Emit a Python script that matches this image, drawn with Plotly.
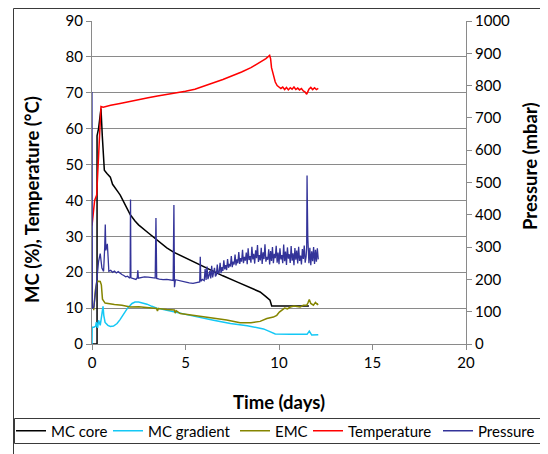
import plotly.graph_objects as go

# ---------------- data ----------------
mc_core_t = [0.0, 0.27, 0.27, 0.35, 0.42, 0.48, 0.55, 0.62, 0.66, 0.8, 0.98, 1.1, 1.24, 1.4, 1.51,
             1.8, 2.05, 2.3, 2.49, 3.0, 3.47, 4.0, 4.36, 5.0, 5.25, 6.0, 6.5, 7.0, 7.75, 8.46,
             8.99, 9.3, 9.52, 9.61, 10.0, 11.0, 11.6]
mc_core_v = [0.0, 0.0, 58.0, 60.0, 63.0, 65.6, 58.0, 50.0, 48.4, 47.5, 46.5, 44.5, 43.3, 42.3, 41.5,
             38.5, 36.0, 34.3, 33.2, 31.0, 28.9, 26.8, 25.6, 24.0, 23.3, 21.3, 20.1, 19.0, 17.3, 15.7,
             14.5, 13.2, 12.2, 10.6, 10.6, 10.6, 10.6]

mc_grad_t = [0.0, 0.01, 0.1, 0.2, 0.23, 0.3, 0.35, 0.44, 0.52, 0.59, 0.63, 0.7, 0.85, 0.98, 1.15,
             1.34, 1.5, 1.69, 1.9, 2.14, 2.3, 2.49, 2.7, 2.94, 3.2, 3.47, 4.0, 4.72, 5.5, 6.5,
             7.4, 8.3, 8.8, 9.17, 9.45, 9.6, 9.8, 10.6, 11.5, 11.62, 11.75, 12.1]
mc_grad_v = [0.0, 4.7, 4.7, 5.0, 6.1, 4.5, 6.6, 5.2, 8.0, 10.5, 8.0, 6.0, 5.2, 4.9, 5.0,
             5.7, 6.8, 8.5, 10.0, 11.3, 11.7, 11.7, 11.4, 11.1, 10.5, 10.0, 9.4, 8.5, 7.7, 6.6,
             5.7, 5.1, 4.6, 4.2, 3.6, 3.3, 2.8, 2.7, 2.7, 3.6, 2.5, 2.6]

emc_t = [0.09, 0.18, 0.27, 0.44, 0.5, 0.56, 0.7, 0.8, 1.2, 1.6, 2.05, 2.5, 3.0, 3.45, 3.5, 3.55,
         4.0, 4.4, 4.45, 4.5, 4.72, 5.5, 6.5, 7.2, 7.92, 8.5, 8.99, 9.35, 9.7, 9.88, 10.02, 10.15,
         10.3, 10.45, 10.6, 10.8, 11.0, 11.13, 11.3, 11.48, 11.55, 11.62, 11.7, 11.84, 11.95,
         12.05, 12.1]
emc_v = [9.4, 15.0, 17.5, 17.4, 16.5, 12.5, 11.4, 11.3, 11.0, 10.8, 10.3, 10.4, 10.2, 9.9, 9.2, 9.9,
         9.6, 9.5, 8.6, 9.3, 8.5, 7.9, 7.3, 6.7, 5.9, 5.9, 6.3, 7.1, 7.5, 8.0, 8.9, 9.4,
         10.0, 9.8, 10.3, 10.6, 10.4, 10.3, 10.8, 10.8, 11.5, 12.4, 11.3, 10.8, 11.6,
         11.0, 11.2]

temp_t = [0.0, 0.05, 0.14, 0.25, 0.3, 0.35, 0.42, 0.48, 0.6, 0.8, 1.0, 1.5, 2.0, 2.5, 3.0, 3.5,
          4.0, 4.5, 5.0, 5.5, 6.0, 6.5, 7.0, 7.5, 8.0, 8.5, 9.0, 9.3, 9.5, 9.55, 9.6, 9.7, 9.8,
          9.9, 10.0, 10.1, 10.2, 10.3, 10.4, 10.5, 10.6, 10.7, 10.8, 10.9, 11.0, 11.1, 11.2,
          11.3, 11.4, 11.48, 11.55, 11.6, 11.7, 11.8, 11.9, 12.0, 12.1]
temp_v = [33.0, 36.0, 40.0, 41.5, 47.0, 54.0, 61.0, 66.2, 66.0, 66.3, 66.5, 67.0, 67.6, 68.1, 68.6,
          69.1, 69.5, 69.9, 70.4, 71.0, 71.8, 72.8, 73.7, 74.7, 75.8, 77.0, 78.5, 79.5, 80.4, 79.5,
          77.0, 74.5, 73.0, 72.0, 71.5, 71.2, 71.6, 70.9, 71.5, 70.8, 71.4, 71.0, 71.6, 70.9, 71.3,
          70.8, 71.2, 70.5, 70.2, 69.6, 70.4, 71.0, 71.5, 70.9, 71.4, 70.9, 71.2]

press_t = [0.0, 0.02, 0.1, 0.18, 0.27, 0.35, 0.44, 0.53, 0.62, 0.68, 0.71, 0.74, 0.78, 0.82, 0.86,
           0.9, 1.0, 1.1, 1.2, 1.3, 1.4, 1.5, 1.6, 1.7, 1.8, 1.9, 2.0, 2.04, 2.06, 2.08, 2.2, 2.35,
           2.42, 2.45, 2.48, 2.6, 2.8, 3.0, 3.2, 3.38, 3.42, 3.46, 3.6, 3.8, 4.0, 4.2, 4.34, 4.38,
           4.41, 4.46, 4.6, 4.8, 5.0, 5.2, 5.4, 5.6, 5.76, 5.79, 5.82, 5.9,
           6.00, 6.05, 6.10, 6.15, 6.20, 6.25, 6.30, 6.35, 6.40, 6.45, 6.50, 6.55, 6.60, 6.65,
           6.70, 6.75, 6.80, 6.85, 6.90, 6.95, 7.00, 7.05, 7.10, 7.15, 7.20, 7.25, 7.30, 7.35,
           7.40, 7.45, 7.50, 7.55, 7.60, 7.65, 7.70, 7.75, 7.80, 7.85, 7.90, 7.95, 8.00, 8.05,
           8.10, 8.15, 8.20, 8.25, 8.30, 8.35, 8.40, 8.45, 8.50, 8.55, 8.60, 8.65, 8.70, 8.75,
           8.80, 8.85, 8.90, 8.95, 9.00, 9.05, 9.10, 9.15, 9.20, 9.25, 9.30, 9.35, 9.40, 9.45,
           9.50, 9.55, 9.60, 9.65, 9.70, 9.75, 9.80, 9.85, 9.90, 9.95, 10.00, 10.05, 10.10,
           10.15, 10.20, 10.25, 10.30, 10.35, 10.40, 10.45, 10.50, 10.55, 10.60, 10.65, 10.70,
           10.75, 10.80, 10.85, 10.90, 10.95, 11.00, 11.05, 11.10, 11.15, 11.20, 11.25, 11.30,
           11.35, 11.40, 11.45, 11.48, 11.50, 11.52, 11.54, 11.57, 11.60, 11.65, 11.70, 11.75,
           11.80, 11.85, 11.90, 11.95, 12.00, 12.05, 12.10]
press_mbar = [780, 110, 115, 170, 205, 255, 280, 235, 225, 300, 370, 290, 305, 310, 270,
              225, 228, 222, 226, 220, 224, 218, 215, 212, 208, 210, 205, 207, 447, 205, 203, 200,
              205, 228, 204, 206, 208, 207, 205, 204, 390, 203, 201, 199, 200, 198, 197, 430,
              176, 199, 197, 193, 190, 189, 188, 190, 192, 270, 194, 200,
              196, 232, 198, 240, 201, 212, 226, 203, 242, 206, 220, 236, 209, 214,
              246, 216, 222, 251, 219, 238, 226, 259, 231, 244, 229, 263, 236, 248,
              240, 272, 238, 255, 246, 277, 243, 262, 250, 285, 248, 266, 255, 292,
              250, 270, 258, 283, 247, 296, 260, 272, 252, 301, 262, 279, 249, 290,
              266, 306, 254, 275, 259, 298, 248, 284, 263, 309, 255, 270, 261, 293,
              246, 288, 257, 300, 250, 279, 266, 304, 252, 283, 247, 296, 262,
              275, 250, 308, 256, 286, 245, 299, 264, 278, 251, 303, 258,
              281, 244, 297, 261, 289, 249, 301, 257, 274, 246, 294, 263,
              305, 252, 270, 300, 522, 420, 330, 290, 250, 298, 244, 287,
              256, 300, 248, 292, 255, 296, 262]

x_ticks = [0, 5, 10, 15, 20]
y_ticks = [0, 10, 20, 30, 40, 50, 60, 70, 80, 90]
y2_ticks = [0, 100, 200, 300, 400, 500, 600, 700, 800, 900, 1000]

series_names = ["MC core", "MC gradient", "EMC", "Temperature", "Pressure"]
series_colors = ["#000000", "#14C8F5", "#858500", "#FF0000", "#333399"]
x_title = "Time (days)"
y_title = "MC (%), Temperature (°C)"
y2_title = "Pressure (mbar)"

# ---------------- layout geometry ----------------
# The page body has an 8 px margin, so the figure is drawn 8 px in from the
# window's top-left corner; geometry below is given in window pixels.
OFF = 8
W, H = 548 - OFF, 454 - OFF
PLOT_L, PLOT_R, PLOT_T, PLOT_B = 92, 466, 21, 344     # window pixels
ML, MT = PLOT_L - OFF, PLOT_T - OFF
MR, MB = W - (PLOT_R - OFF), H - (PLOT_B - OFF)
PW, PH = W - ML - MR, H - MT - MB


def px_x(px):
    return (px - OFF - ML) / PW


def px_y(py):
    return (H - MB - (py - OFF)) / PH


FONT = "Lato"
GRID = "#8a8a8a"
TITLE_SIZE = 18.5
legend_text_px = [51, 148, 275, 348, 478]   # where each legend label starts

fig = go.Figure()
xs = [mc_core_t, mc_grad_t, emc_t, temp_t, press_t]
ys = [mc_core_v, mc_grad_v, emc_v, temp_v, press_mbar]
for i, (name, col) in enumerate(zip(series_names, series_colors)):
    fig.add_trace(go.Scatter(
        x=xs[i], y=ys[i], name=name, mode="lines",
        yaxis="y2" if name == "Pressure" else "y",
        legend="legend" if i == 0 else f"legend{i + 1}",
        line=dict(color=col, width=1.3 if name == "Pressure" else 1.5)))

legends = {}
for i, tx in enumerate(legend_text_px):
    key = "legend" if i == 0 else f"legend{i + 1}"
    legends[key] = dict(orientation="h", x=px_x(tx - 40), xanchor="left",
                        y=px_y(431), yanchor="middle",
                        font=dict(family=FONT, size=15, color="#000000"),
                        bgcolor="rgba(0,0,0,0)", borderwidth=0)

fig.update_layout(
    width=W, height=H,
    margin=dict(l=ML, r=MR, t=MT, b=MB, autoexpand=False),
    paper_bgcolor="white", plot_bgcolor="white",
    font=dict(family=FONT, size=15, color="#000000"),
    showlegend=True,
    xaxis=dict(range=[0, 20], tickvals=x_ticks, showgrid=False, zeroline=False,
               showline=True, linecolor=GRID, linewidth=1, ticks="outside", ticklen=5,
               tickcolor=GRID, tickfont=dict(size=15), automargin=False,
               title=dict(text=f"<b>{x_title}</b>", font=dict(size=TITLE_SIZE), standoff=26)),
    yaxis=dict(range=[0, 90], tickvals=y_ticks, showgrid=True, gridcolor=GRID, gridwidth=1,
               zeroline=False, showline=True, linecolor=GRID, linewidth=1, ticks="outside",
               ticklen=5, tickcolor=GRID, tickfont=dict(size=15), automargin=False),
    yaxis2=dict(range=[0, 1000], tickvals=y2_ticks, overlaying="y", side="right",
                showgrid=False, zeroline=False, showline=True, linecolor=GRID, linewidth=1,
                ticks="outside", ticklen=5, tickcolor=GRID, tickfont=dict(size=15),
                automargin=False),
    annotations=[
        dict(text=f"<b>{y_title}</b>", xref="paper", yref="paper", x=px_x(32), y=px_y(200),
             xanchor="center", yanchor="middle", textangle=-90, showarrow=False,
             font=dict(family=FONT, size=TITLE_SIZE, color="#000000")),
        dict(text=f"<b>{y2_title}</b>", xref="paper", yref="paper", x=px_x(530), y=px_y(166),
             xanchor="center", yanchor="middle", textangle=-90, showarrow=False,
             font=dict(family=FONT, size=TITLE_SIZE, color="#000000")),
    ],
    shapes=[
        dict(type="rect", xref="paper", yref="paper", x0=px_x(13.5), x1=px_x(560),
             y0=px_y(470), y1=px_y(OFF + 0.5), line=dict(color="#3a3a3a", width=1), layer="below"),
        dict(type="rect", xref="paper", yref="paper", x0=px_x(14.5), x1=px_x(544.5),
             y0=px_y(443.5), y1=px_y(418.5), line=dict(color="#3a3a3a", width=1), layer="below"),
    ],
    **legends,
)

fig.write_html("out.html")
